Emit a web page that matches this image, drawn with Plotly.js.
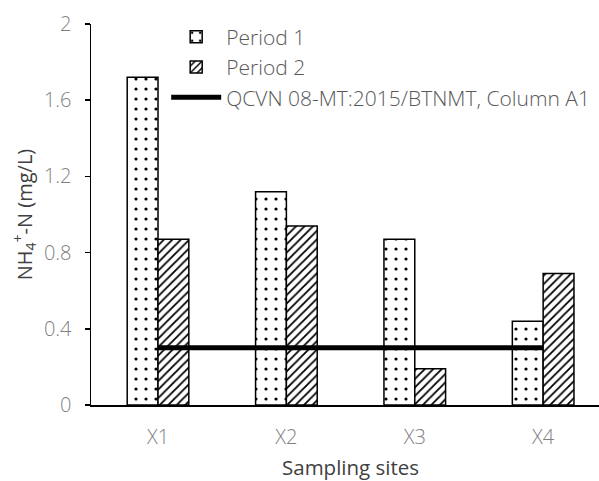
<!DOCTYPE html>
<html>
<head>
<meta charset="utf-8">
<script src="https://cdn.plot.ly/plotly-3.0.1.min.js"></script>
<style>html,body{margin:0;padding:0;background:#fff;}#chart{width:599px;height:481px;}</style>
</head>
<body>
<div id="chart"></div>
<script>
var sites = ["X1", "X2", "X3", "X4"];
var period1 = [1.72, 1.12, 0.87, 0.44];
var period2 = [0.87, 0.94, 0.19, 0.69];
var standard = [0.3, 0.3, 0.3, 0.3];
var yTicks = [0, 0.4, 0.8, 1.2, 1.6, 2];
var yTickText = ["0", "0.4", "0.8", "1.2", "1.6", "2"];
var xTitle = "Sampling sites";

var fontFam = "'Open Sans', sans-serif";
var traces = [
  {
    type: "bar", name: "Period 1", x: sites, y: period1, legendgroup: "a",
    marker: {color: "white", line: {color: "black", width: 1.5},
      pattern: {shape: ".", fgcolor: "black", bgcolor: "white", size: 10, solidity: 0.08}}
  },
  {
    type: "bar", name: "Period 2", x: sites, y: period2, legendgroup: "b",
    marker: {color: "white", line: {color: "black", width: 1.5},
      pattern: {shape: "/", fgcolor: "black", bgcolor: "white", size: 6, solidity: 0.3}}
  },
  {
    type: "scatter", mode: "lines", name: "QCVN 08-MT:2015/BTNMT, Column A1", legendgroup: "c",
    x: sites, y: standard, line: {color: "black", width: 5}
  }
];

var layout = {
  width: 599, height: 481,
  margin: {l: 91, r: 0, t: 24, b: 76},
  paper_bgcolor: "white", plot_bgcolor: "white",
  font: {family: fontFam, size: 20, color: "#595959", weight: 300},
  barmode: "group", bargap: 0.52, bargroupgap: 0,
  showlegend: true,
  legend: {x: 0.148, y: 1.0195, xanchor: "left", yanchor: "top", bgcolor: "rgba(0,0,0,0)",
    traceorder: "grouped", tracegroupgap: 0,
    font: {family: fontFam, size: 21, color: "#595959", weight: 300}, itemwidth: 50},
  xaxis: {
    type: "category", range: [-0.522, 3.435],
    showline: true, linecolor: "black", linewidth: 1.5,
    ticks: "", showgrid: false, zeroline: false, ticklabelstandoff: 13,
    tickfont: {family: fontFam, size: 20, color: "#7f7f7f", weight: 300}
  },
  yaxis: {
    range: [0, 2], tickvals: yTicks, ticktext: yTickText,
    showline: true, linecolor: "black", linewidth: 1.5,
    ticks: "outside", ticklen: 5, tickcolor: "black", tickwidth: 1.5,
    showgrid: false, zeroline: false, ticklabelstandoff: 9,
    tickfont: {family: fontFam, size: 20, color: "#7f7f7f", weight: 300},
    title: {text: "NH<sub>4</sub><sup>+</sup>-N (mg/L)", font: {family: fontFam, size: 20, color: "#404040", weight: 400}, standoff: 6}
  },
  annotations: [{
    text: xTitle, xref: "x", x: 1.5, yref: "paper", y: -0.163, yanchor: "middle",
    showarrow: false, font: {family: fontFam, size: 20.5, color: "#404040", weight: 400}
  }]
};

Plotly.newPlot("chart", traces, layout, {displayModeBar: false, staticPlot: true});
</script>
</body>
</html>
